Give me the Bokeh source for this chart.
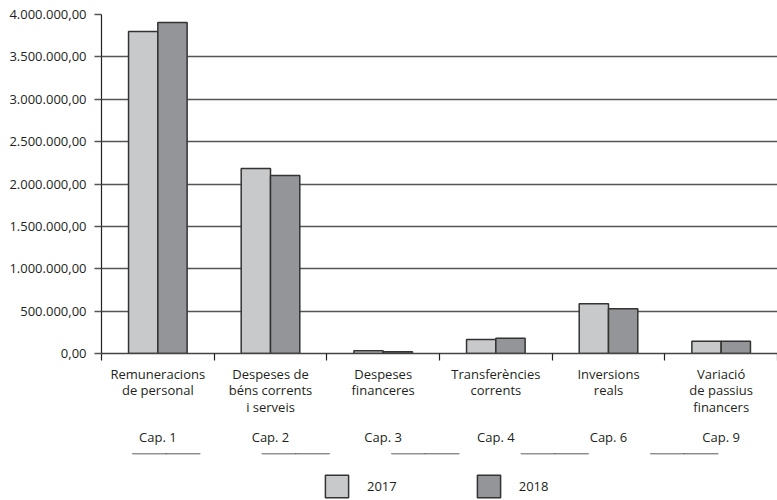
import numpy as np
from bokeh.plotting import figure
from bokeh.layouts import column
from bokeh.models import Range1d, FixedTicker, LinearAxis, Legend, LegendItem, ColumnDataSource
from bokeh.embed import file_html
from bokeh.resources import INLINE

categories = ["Remuneracions\nde personal", "Despeses de\nbéns corrents\ni serveis",
              "Despeses\nfinanceres", "Transferències\ncorrents", "Inversions\nreals",
              "Variació\nde passius\nfinancers"]
chapters = ["Cap. 1", "Cap. 2", "Cap. 3", "Cap. 4", "Cap. 6", "Cap. 9"]
years = ["2017", "2018"]
v2017 = [3800000, 2183000, 32000, 165000, 586000, 145000]
v2018 = [3905000, 2100000, 20000, 180000, 527000, 145000]
y_ticks = [0, 500000, 1000000, 1500000, 2000000, 2500000, 3000000, 3500000, 4000000]
y_tick_labels = ["0,00", "500.000,00", "1.000.000,00", "1.500.000,00", "2.000.000,00",
                 "2.500.000,00", "3.000.000,00", "3.500.000,00", "4.000.000,00"]

FONT = "Open Sans"
TXT = "#231f20"
FS = "13px"
c2017 = "#c8c9cb"
c2018 = "#939598"
OUT = "#333333"

n = len(categories)
idx = np.arange(n)
centers = [float(i) + 0.5 for i in idx]
bw = 0.26

p = figure(frame_width=676, frame_height=339,
           x_range=Range1d(0, n), y_range=Range1d(0, 4000000),
           output_backend="svg", toolbar_location=None,
           min_border_left=101, min_border_right=0, min_border_top=14, min_border_bottom=100)
p.outline_line_color = None
p.background_fill_color = "white"

src = ColumnDataSource(dict(x1=idx + 0.5 - bw / 2, x2=idx + 0.5 + bw / 2, a=v2017, b=v2018))
r1 = p.vbar(x="x1", top="a", width=bw, source=src, fill_color=c2017,
            line_color=OUT, line_width=1.5)
r2 = p.vbar(x="x2", top="b", width=bw, source=src, fill_color=c2018,
            line_color=OUT, line_width=1.5)

# grid
p.xgrid.visible = False
p.ygrid.ticker = FixedTicker(ticks=y_ticks)
p.ygrid.grid_line_color = "#555555"
p.ygrid.grid_line_width = 1.5
p.ygrid.level = "underlay"

# y axis
ya = p.yaxis[0]
ya.ticker = FixedTicker(ticks=y_ticks)
ya.major_label_overrides = {t: l for t, l in zip(y_ticks, y_tick_labels)}
ya.major_tick_out = 7
ya.major_tick_in = 0
ya.major_tick_line_color = "#555555"
ya.major_tick_line_width = 1.5
ya.minor_tick_line_color = None
ya.axis_line_color = "#222222"
ya.axis_line_width = 1.2
ya.major_label_standoff = 8
ya.major_label_text_font = FONT
ya.major_label_text_font_size = FS
ya.major_label_text_color = TXT

# x axis with category labels
xa = p.xaxis[0]
xa.ticker = FixedTicker(ticks=centers, minor_ticks=[float(i) for i in range(n + 1)])
xa.major_label_overrides = {c: l for c, l in zip(centers, categories)}
xa.major_tick_out = 0
xa.major_tick_in = 0
xa.major_tick_line_color = None
xa.minor_tick_out = 7
xa.minor_tick_in = 0
xa.minor_tick_line_color = "#222222"
xa.minor_tick_line_width = 1.2
xa.axis_line_color = "#444444"
xa.axis_line_width = 1.5
xa.major_label_standoff = 4
xa.major_label_text_font = FONT
xa.major_label_text_font_size = FS
xa.major_label_text_color = TXT
xa.major_label_text_line_height = 0.92

# chapter axis
ca = LinearAxis(ticker=FixedTicker(ticks=centers),
                major_label_overrides={c: l for c, l in zip(centers, chapters)})
ca.axis_line_color = None
ca.major_tick_line_color = None
ca.minor_tick_line_color = None
ca.major_label_standoff = 3
ca.major_label_text_font = FONT
ca.major_label_text_font_size = FS
ca.major_label_text_color = TXT
p.add_layout(ca, "below")

# legend strip: same series drawn with a range that keeps the bars out of view
p2 = figure(frame_width=777, frame_height=47, output_backend="svg", toolbar_location=None,
            x_range=Range1d(0, n), y_range=Range1d(-2, -1),
            x_axis_location=None, y_axis_location=None,
            min_border_left=0, min_border_right=0, min_border_top=0, min_border_bottom=0)
p2.outline_line_color = None
p2.grid.visible = False
l1 = p2.vbar(x="x1", top="a", bottom="a", width=bw, source=src, fill_color=c2017,
             line_color=OUT, line_width=1.5)
l2 = p2.vbar(x="x2", top="b", bottom="b", width=bw, source=src, fill_color=c2018,
             line_color=OUT, line_width=1.5)
legend = Legend(items=[LegendItem(label=years[0], renderers=[l1]),
                       LegendItem(label=years[1], renderers=[l2])],
                orientation="horizontal", location=(322, 0),
                glyph_width=29, glyph_height=28, label_standoff=16, spacing=77,
                border_line_color=None, background_fill_alpha=0,
                label_text_font=FONT, label_text_font_size=FS, label_text_color=TXT,
                padding=0, margin=0)
p2.add_layout(legend, "center")

layout = column(p, p2, spacing=0)
open("out.html", "w").write(file_html(layout, INLINE))
